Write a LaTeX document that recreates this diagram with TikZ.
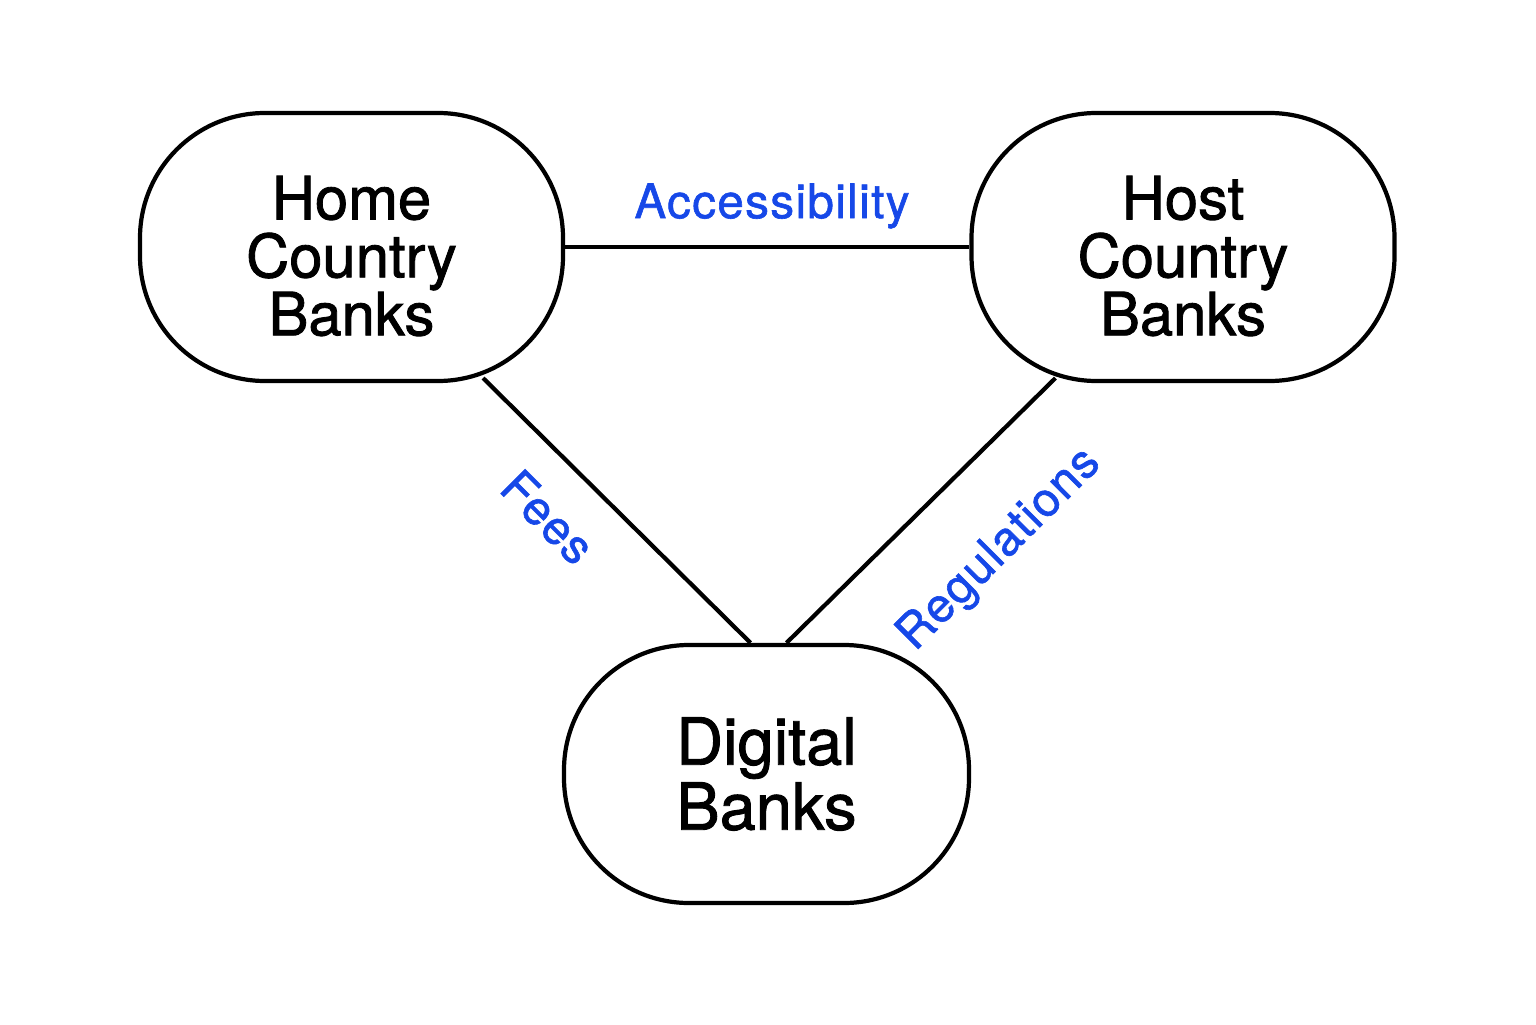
\documentclass[tikz,border=0pt]{standalone}
\usepackage{fontspec}
\setmainfont{TeX Gyre Heros}[BoldFont=TeX Gyre Heros,BoldFeatures={FakeBold=1.4}]
\newfontfamily\lblfont{TeX Gyre Heros}[FakeBold=1.3,LetterSpace=3]
\usepackage{tikz}
\usetikzlibrary{positioning}
\definecolor{linkblue}{RGB}{22,72,232}

\begin{document}
\begin{tikzpicture}[
    bank/.style={draw,line width=1.2pt,rounded corners=1.25cm,minimum width=4.23cm,minimum height=2.68cm},
    banktext/.style={align=center,font=\fontsize{17}{16.5}\bfseries\selectfont},
    link/.style={line width=1.2pt},
    lbl/.style={text=linkblue,font=\fontsize{13.5}{13.5}\lblfont}]
      \useasboundingbox (0,0) rectangle (15.36,10.24);
      \node[bank] (home) at (3.515,7.77) {};
      \node[bank] (host) at (11.83,7.77) {};
      \node[bank,minimum width=4.05cm,minimum height=2.58cm] (digital) at (7.665,2.50) {};
      \node[banktext] (hometxt) at ([yshift=-0.09cm]home.center) {Home\\ Country\\ Banks};
      \node[banktext] (hosttxt) at ([yshift=-0.09cm]host.center) {Host\\ Country\\ Banks};
      \node[banktext,font=\fontsize{18.5}{18.5}\bfseries\selectfont] (digitaltxt) at (digital.center) {Digital\\ Banks};
      \draw[link] (home.east) -- (host.west);
      \draw[link] ([shift={(-0.82,0.05)}]home.south east) -- ([xshift=-0.16cm]digital.north);
      \draw[link] ([shift={(0.86,0.05)}]host.south west) -- ([xshift=0.20cm]digital.north);
      \node[lbl] (acc) at (7.72,8.18) {Accessibility};
      \node[lbl,rotate=-45] (fees) at (5.48,5.07) {Fees};
      \node[lbl,rotate=45] (reg) at (10.0,4.74) {Regulations};
    \end{tikzpicture}
\end{document}
